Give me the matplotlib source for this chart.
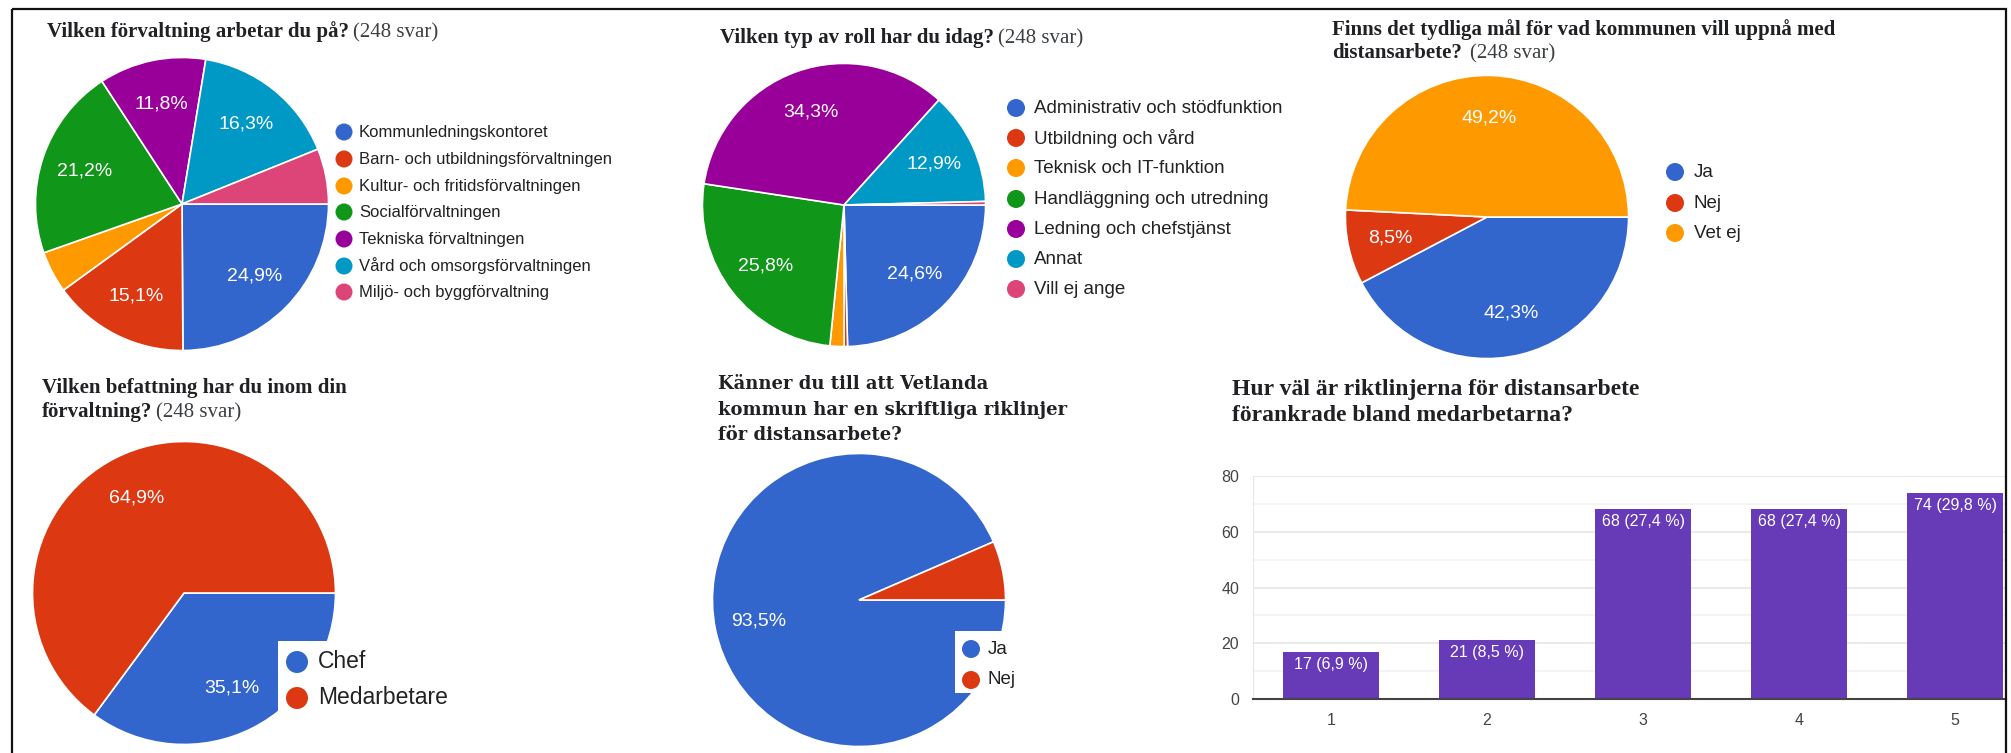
import matplotlib
matplotlib.use("Agg")
import matplotlib.pyplot as plt
from matplotlib.patches import Circle, Rectangle

W, H = 2011, 753

# ---- data ----
forv_labels = ["Kommunledningskontoret", "Barn- och utbildningsförvaltningen",
               "Kultur- och fritidsförvaltningen", "Socialförvaltningen",
               "Tekniska förvaltningen", "Vård och omsorgsförvaltningen",
               "Miljö- och byggförvaltning"]
forv_pct = [24.9, 15.1, 4.6, 21.2, 11.8, 16.3, 6.1]

roll_labels = ["Administrativ och stödfunktion", "Utbildning och vård",
               "Teknisk och IT-funktion", "Handläggning och utredning",
               "Ledning och chefstjänst", "Annat", "Vill ej ange"]
roll_pct = [24.6, 0.4, 1.6, 25.8, 34.3, 12.9, 0.4]

mal_labels = ["Ja", "Nej", "Vet ej"]
mal_pct = [42.3, 8.5, 49.2]

bef_labels = ["Chef", "Medarbetare"]
bef_pct = [35.1, 64.9]

rikt_labels = ["Ja", "Nej"]
rikt_pct = [93.5, 6.5]

scale_steps = [1, 2, 3, 4, 5]
scale_counts = [17, 21, 68, 68, 74]
scale_pct = [6.9, 8.5, 27.4, 27.4, 29.8]

colors = ["#3366cc", "#dc3912", "#ff9900", "#109618", "#990099", "#0099c6", "#dd4477"]
SERIF = "Liberation Serif"
SANS = "Liberation Sans"

fig = plt.figure(figsize=(W / 100, H / 100), dpi=100)
fig.patch.set_facecolor("white")


def px_axes(x0, y0, x1, y1, **kw):
    return fig.add_axes([x0 / W, 1 - y1 / H, (x1 - x0) / W, (y1 - y0) / H], **kw)


def pct_fmt(p):
    return ("%.1f%%" % p).replace(".", ",") if p >= 7 else ""


def draw_pie(values, cx, cy, r):
    ax = px_axes(cx - r, cy - r, cx + r, cy + r)
    ax.pie(values, colors=colors[:len(values)], startangle=0, counterclock=False,
           autopct=pct_fmt, pctdistance=0.7, radius=1,
           wedgeprops=dict(edgecolor="white", linewidth=1.2),
           textprops=dict(color="white", fontsize=14, family=SANS))
    ax.set_xlim(-1.01, 1.01)
    ax.set_ylim(-1.01, 1.01)
    ax.set_aspect("equal")
    ax.axis("off")
    return ax


draw_pie(forv_pct, 182, 204, 148)
draw_pie(roll_pct, 844, 205, 143)
draw_pie(mal_pct, 1487, 217, 143)
draw_pie(bef_pct, 184, 593, 153)
draw_pie(rikt_pct, 859, 600, 148)

# ---- bar chart ----
ax = px_axes(1253, 476, 2006, 699)
ax.bar(scale_steps, scale_counts, width=0.615, color="#673ab7", zorder=2)
for x, c, p in zip(scale_steps, scale_counts, scale_pct):
    ax.annotate(("%d (%.1f %%)" % (c, p)).replace(".", ","), xy=(x, c),
                xytext=(0, -5), textcoords="offset pixels", ha="center", va="top",
                color="white", fontsize=11.5, family=SANS, zorder=3)
ax.set_xlim(0.5, 0.5 + (2006 - 1253) / 156)
ax.set_ylim(0, 80)
ax.set_xticks(scale_steps)
ax.set_yticks([0, 20, 40, 60, 80])
ax.set_yticks([10, 30, 50, 70], minor=True)
ax.grid(axis="y", which="major", color="#e6e6e6", linewidth=1.2)
ax.grid(axis="y", which="minor", color="#f2f2f2", linewidth=1.2)
ax.set_axisbelow(True)
for s in ["top", "right"]:
    ax.spines[s].set_visible(False)
ax.spines["left"].set_color("#e6e6e6")
ax.spines["bottom"].set_color("#444444")
ax.spines["bottom"].set_linewidth(1.5)
ax.tick_params(axis="both", which="both", length=0, labelsize=11.5, labelcolor="#444444")
ax.tick_params(axis="y", pad=10)
ax.tick_params(axis="x", pad=10)
for lbl in ax.get_xticklabels() + ax.get_yticklabels():
    lbl.set_family(SANS)

# ---- overlay in pixel coordinates: titles, legends, frame ----
cv = fig.add_axes([0, 0, 1, 1], zorder=10)
cv.set_xlim(0, W)
cv.set_ylim(H, 0)
cv.axis("off")
cv.patch.set_alpha(0)

renderer = fig.canvas.get_renderer()


def title(x, y, bold, rest=None, size=15, family=SERIF, gap=4):
    t = cv.text(x, y, bold, fontsize=size, fontweight="bold", family=family,
                color="#202124", va="baseline", ha="left")
    if rest:
        bb = t.get_window_extent(renderer)
        cv.text(bb.x1 + gap, y, rest, fontsize=size, family=family,
                color="#3c4043", va="baseline", ha="left")


def legend(x, ys, labels, size, rad, gap):
    for y, lab, col in zip(ys, labels, colors):
        cv.add_patch(Circle((x, y), rad, color=col, lw=0))
        cv.text(x + gap, y, lab, fontsize=size, family=SANS, color="#222222",
                va="center", ha="left")


title(47, 37, "Vilken förvaltning arbetar du på?", "(248 svar)")
title(720, 43, "Vilken typ av roll har du idag?", "(248 svar)")
title(1332, 35, "Finns det tydliga mål för vad kommunen vill uppnå med")
title(1332, 58, "distansarbete?", "(248 svar)", gap=8)
title(42, 393, "Vilken befattning har du inom din")
title(42, 417, "förvaltning?", "(248 svar)")
for yy, line in zip([389, 415, 440], ["Känner du till att Vetlanda",
                                     "kommun har en skriftliga riklinjer",
                                     "för distansarbete?"]):
    title(718, yy, line, size=13, family="DejaVu Serif")
title(1232, 395, "Hur väl är riktlinjerna för distansarbete", size=17)
title(1232, 421, "förankrade bland medarbetarna?", size=17)

legend(344, [132, 159, 186, 212, 239, 266, 292], forv_labels, 12, 8.5, 15)
legend(1016, [108, 138, 168, 199, 229, 259, 289], roll_labels, 13.5, 9, 18)
legend(1675, [172, 203, 233], mal_labels, 13.5, 9, 19)

cv.add_patch(Rectangle((278, 641), 190, 72, color="white", lw=0))
legend(297, [662, 698], bef_labels, 16.5, 11, 21)
cv.add_patch(Rectangle((955, 631), 75, 62, color="white", lw=0))
legend(971, [649, 680], rikt_labels, 13.5, 9, 17)

# outer frame (bottom edge cut off as in the screenshot)
cv.add_patch(Rectangle((12, 9), 2006 - 12, 760, fill=False, edgecolor="#111111", lw=1.6))

fig.savefig("out.png", dpi=100, facecolor="white")
